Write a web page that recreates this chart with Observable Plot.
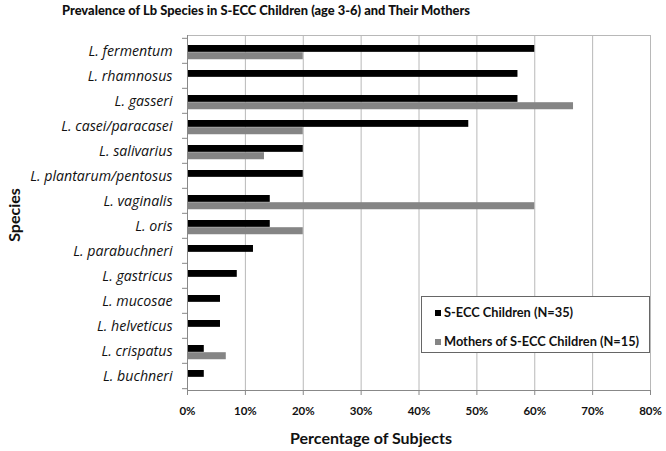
<!DOCTYPE html>
<html>
<head>
<meta charset="utf-8">
<script src="https://cdn.jsdelivr.net/npm/d3@7"></script>
<script src="https://cdn.jsdelivr.net/npm/@observablehq/plot@0.6"></script>
<style>
  html, body { margin: 0; padding: 0; background: #fff; }
  #wrap { position: relative; width: 666px; height: 451px; font-family: Lato, "Open Sans", sans-serif; }
  #chart { position: absolute; left: 0; top: 0; }
  .title { position: absolute; top: 2px; left: 266px; transform: translateX(-50%); white-space: nowrap; font-weight: 900; font-size: 12.9px; color: #111; }
  .xlab { position: absolute; top: 428px; left: 371px; transform: translateX(-50%); white-space: nowrap; font-weight: bold; font-size: 16px; color: #111; }
  .ylab { position: absolute; left: 13px; top: 215px; transform: translate(-50%, -50%) rotate(-90deg); white-space: nowrap; font-weight: bold; font-size: 16px; color: #111; }
  .legend { position: absolute; left: 421px; top: 296px; width: 229px; height: 57px; border: 1px solid #666; background: #fff; box-sizing: border-box; }
  .item { position: absolute; left: 13px; white-space: nowrap; font-weight: bold; font-size: 12.8px; color: #111; line-height: 15px; }
  .sw { display: inline-block; width: 6px; height: 6px; margin-right: 3px; vertical-align: 1px; }
</style>
</head>
<body>
<div id="wrap">
  <div id="chart"></div>
  <div class="title">Prevalence of Lb Species in S-ECC Children (age 3-6) and Their Mothers</div>
  <div class="ylab">Species</div>
  <div class="xlab">Percentage of Subjects</div>
  <div class="legend" id="legend"></div>
</div>
<script>
const species = ["L. fermentum", "L. rhamnosus", "L. gasseri", "L. casei/paracasei", "L. salivarius",
  "L. plantarum/pentosus", "L. vaginalis", "L. oris", "L. parabuchneri", "L. gastricus",
  "L. mucosae", "L. helveticus", "L. crispatus", "L. buchneri"];
const children = [60, 57.1, 57.1, 48.6, 20, 20, 14.3, 14.3, 11.4, 8.6, 5.7, 5.7, 2.9, 2.9];
const mothers = [20, 0, 66.7, 20, 13.3, 0, 60, 20, 0, 0, 0, 0, 6.7, 0];
const seriesNames = ["S-ECC Children (N=35)", "Mothers of S-ECC Children (N=15)"];
const seriesColors = ["#000000", "#858585"];
const xTicks = [0, 10, 20, 30, 40, 50, 60, 70, 80];

const rows = species.map((s, i) => ({species: s, children: children[i], mothers: mothers[i]}));

const W = 666, H = 451, mt = 35, mb = 61, ml = 187, mr = 16;
const bw = (H - mt - mb) / species.length;

const chart = Plot.plot({
  width: W, height: H,
  marginTop: mt, marginBottom: mb, marginLeft: ml, marginRight: mr,
  style: {fontFamily: "Lato, 'Open Sans', sans-serif", color: "#111", background: "transparent"},
  x: {domain: [0, 80]},
  y: {domain: species, padding: 0},
  marks: [
    Plot.gridX(xTicks, {stroke: "#b8b8b8", strokeOpacity: 1}),
    Plot.frame({anchor: "top", stroke: "#b8b8b8"}),
    Plot.barX(rows, {x: "children", y: "species", fill: seriesColors[0], insetTop: 7, insetBottom: bw - 14.2}),
    Plot.barX(rows, {x: "mothers", y: "species", fill: seriesColors[1], insetTop: 14.2, insetBottom: bw - 21.6}),
    Plot.axisX(xTicks, {tickFormat: d => d + "%", tickSize: 5, tickPadding: 11, fontWeight: "bold", fontSize: 11.5, label: null, stroke: "#888"}),
    Plot.axisY({tickSize: 0, tickPadding: 15, fontStyle: "italic", fontFamily: "'Open Sans', sans-serif", fontSize: 14.2, label: null}),
    Plot.axisY(species, {tickSize: 5, tickFormat: () => "", dy: -bw / 2, label: null, stroke: "#888"}),
    Plot.axisY([species[species.length - 1]], {tickSize: 5, tickFormat: () => "", dy: bw / 2, label: null, stroke: "#888"}),
    Plot.frame({anchor: "left", stroke: "#888"}),
    Plot.frame({anchor: "bottom", stroke: "#888"})
  ]
});
document.getElementById("chart").appendChild(chart);

const legend = document.getElementById("legend");
seriesNames.forEach((name, i) => {
  const d = document.createElement("div");
  d.className = "item";
  d.style.top = (8 + i * 29) + "px";
  d.innerHTML = `<span class="sw" style="background:${seriesColors[i]}"></span>${name}`;
  legend.appendChild(d);
});
</script>
</body>
</html>
